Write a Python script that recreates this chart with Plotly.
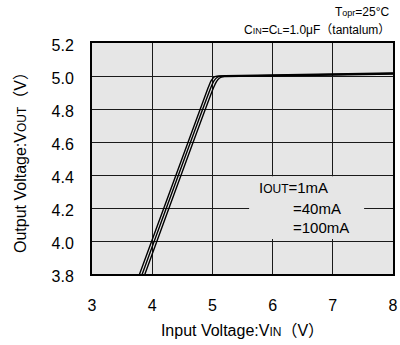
import plotly.graph_objects as go

# Data
vin_1mA = [3.70, 4.93, 4.98, 5.03, 5.10, 6.0, 7.0, 8.0]
vout_1mA = [3.71, 4.93, 4.972, 4.994, 5.001, 5.006, 5.012, 5.018]
vin_40mA = [3.745, 4.975, 5.025, 5.075, 5.15, 6.0, 7.0, 8.0]
vout_40mA = [3.71, 4.93, 4.970, 4.991, 4.999, 5.003, 5.009, 5.015]
vin_100mA = [3.79, 5.02, 5.07, 5.12, 5.20, 6.0, 7.0, 8.0]
vout_100mA = [3.71, 4.93, 4.968, 4.988, 4.996, 5.000, 5.006, 5.012]

x_ticks = [3, 4, 5, 6, 7, 8]
y_ticks = [3.8, 4.0, 4.2, 4.4, 4.6, 4.8, 5.0, 5.2]

FONT = "Liberation Sans, Arial, Noto Sans CJK JP, sans-serif"
BG = "#e6e6e6"

fig = go.Figure()
for xs, ys, name in [(vin_1mA, vout_1mA, "1mA"),
                     (vin_40mA, vout_40mA, "40mA"),
                     (vin_100mA, vout_100mA, "100mA")]:
    fig.add_trace(go.Scatter(x=xs, y=ys, mode="lines", name=name,
                             line=dict(color="black", width=1.4, shape="spline", smoothing=0.6),
                             showlegend=False, cliponaxis=True))

fig.update_layout(
    width=400, height=345,
    margin=dict(l=92, r=7, t=43, b=71, autoexpand=False),
    paper_bgcolor="white",
    plot_bgcolor=BG,
    font=dict(family=FONT, color="black", size=16),
    xaxis=dict(range=[3, 8], tickvals=x_ticks, ticktext=[str(v) for v in x_ticks],
               showgrid=True, gridcolor="#1a1a1a", gridwidth=1,
               showline=True, mirror=True, linecolor="black", linewidth=2,
               ticks="", ticklabelstandoff=16, ticklabeloverflow="allow", zeroline=False,
               automargin=False, tickfont=dict(size=16),
               title=dict(text="Input Voltage:V<span style='font-size:12px'>IN</span>（V）",
                          font=dict(size=16), standoff=12)),
    yaxis=dict(range=[3.8, 5.2], tickvals=y_ticks, ticktext=[f"{v:.1f}" for v in y_ticks],
               showgrid=True, gridcolor="#1a1a1a", gridwidth=1,
               showline=True, mirror=True, linecolor="black", linewidth=2,
               ticks="", ticklabelstandoff=13, ticklabelshift=2, zeroline=False,
               automargin=False, tickfont=dict(size=16),
               title=dict(text="Output Voltage:V<span style='font-size:12px'>OUT</span>（V）",
                          font=dict(size=16), standoff=21)),
)

# legend box background covering gridlines
fig.add_shape(type="rect", xref="x", yref="y", x0=5.61, x1=7.52, y0=4.012, y1=4.392,
              fillcolor=BG, line=dict(width=0), layer="between")

fig.add_annotation(x=5.74, y=4.325, xref="x", yref="y", xanchor="left", yanchor="middle",
                   text="I<span style='font-size:12px'>OUT</span>=1mA", showarrow=False,
                   font=dict(size=15))
fig.add_annotation(x=6.31, y=4.2, xref="x", yref="y", xanchor="left", yanchor="middle",
                   text="=40mA", showarrow=False, font=dict(size=15))
fig.add_annotation(x=6.31, y=4.08, xref="x", yref="y", xanchor="left", yanchor="middle",
                   text="=100mA", showarrow=False, font=dict(size=15))

fig.add_annotation(x=1, y=1, xref="paper", yref="paper", xanchor="right", yanchor="middle",
                   xshift=-1, yshift=31, showarrow=False,
                   text="T<span style='font-size:9px'>opr</span>=25°C", font=dict(size=12))
fig.add_annotation(x=1, y=1, xref="paper", yref="paper", xanchor="right", yanchor="middle",
                   xshift=-1, yshift=13, showarrow=False,
                   text="C<span style='font-size:9px'>IN</span>=C<span style='font-size:9px'>L</span>=1.0μF（tantalum）",
                   font=dict(size=12))

fig.write_html("out.html", config={"displayModeBar": False},
               post_script="document.body.style.margin='0';document.body.style.overflow='hidden';")
